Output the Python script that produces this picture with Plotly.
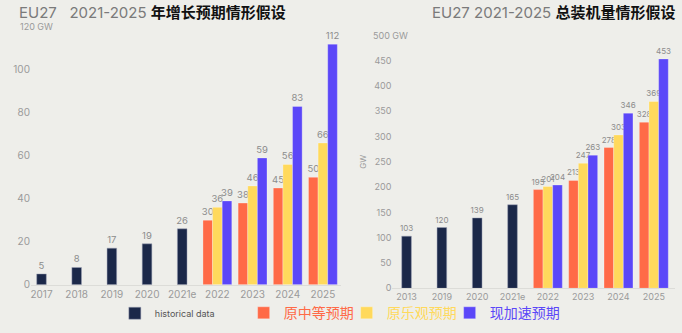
import plotly.graph_objects as go

# ---------------- data ----------------
left_categories = ["2017", "2018", "2019", "2020", "2021e", "2022", "2023", "2024", "2025"]
left_hist_years = ["2017", "2018", "2019", "2020", "2021e"]
left_hist_values = [5, 8, 17, 19, 26]
left_scen_years = ["2022", "2023", "2024", "2025"]
left_medium = [30, 38, 45, 50]
left_optimistic = [36, 46, 56, 66]
left_accelerated = [39, 59, 83, 112]

right_categories = ["2013", "2019", "2020", "2021e", "2022", "2023", "2024", "2025"]
right_hist_years = ["2013", "2019", "2020", "2021e"]
right_hist_values = [103, 120, 139, 165]
right_scen_years = ["2022", "2023", "2024", "2025"]
right_medium = [195, 213, 278, 328]
right_optimistic = [201, 247, 303, 369]
right_accelerated = [204, 263, 346, 453]

left_ticks = [0, 20, 40, 60, 80, 100, 120]
right_ticks = [0, 50, 100, 150, 200, 250, 300, 350, 400, 450, 500]

hist_name = "historical data"
scen_names = ["原中等预期", "原乐观预期", "现加速预期"]

# ---------------- style ----------------
BG = "#EEEEEA"
NAVY = "#1B2849"
ORANGE = "#FF6A47"
YELLOW = "#FFD95C"
PURPLE = "#5B47F8"
LABEL = "#8C8C8C"
TICK = "#9A9A9A"
LATIN = "Inter, Lato, 'DejaVu Sans', sans-serif"
CJK = "'Noto Sans CJK SC', sans-serif"

W, H = 682, 333


def px_x(p):
    return p / W


def px_y(p):
    return 1 - p / H


fig = go.Figure()

scen_colors = [ORANGE, YELLOW, PURPLE]
scen_groups = ["a", "b", "c"]
scen_legend_widths = [58, 58, 76]


def add_chart(xref, yref, hist_x, hist_y, scen_x, scen_vals, show, label_size):
    for name, vals, col, grp, lw in zip(scen_names, scen_vals, scen_colors, scen_groups,
                                        scen_legend_widths):
        fig.add_trace(go.Bar(
            x=scen_x, y=vals,
            name=f'<span style="color:{col}">{name}</span>',
            marker_color=col,
            marker_line=dict(color="rgba(255,255,255,0.35)", width=0.8),
            offsetgroup=grp, xaxis=xref, yaxis=yref,
            texttemplate="%{y}", textposition="outside", constraintext="none",
            textfont=dict(color=LABEL, size=label_size, family=LATIN), cliponaxis=False,
            showlegend=show, legend="legend2", legendwidth=lw,
        ))
    fig.add_trace(go.Bar(
        x=hist_x, y=hist_y, name=hist_name, marker_color=NAVY,
        marker_line=dict(color="rgba(160,165,185,0.6)", width=0.8),
        offsetgroup="b", xaxis=xref, yaxis=yref,
        texttemplate="%{y}", textposition="outside", constraintext="none",
        textfont=dict(color=LABEL, size=label_size, family=LATIN), cliponaxis=False,
        showlegend=show, legend="legend",
    ))


add_chart("x", "y", left_hist_years, left_hist_values, left_scen_years,
          [left_medium, left_optimistic, left_accelerated], True, 9.5)
add_chart("x2", "y2", right_hist_years, right_hist_values, right_scen_years,
          [right_medium, right_optimistic, right_accelerated], False, 8)

axis_font = dict(color=TICK, size=10, family=LATIN)

fig.update_layout(
    width=W, height=H,
    paper_bgcolor=BG, plot_bgcolor=BG,
    margin=dict(l=0, r=0, t=0, b=0),
    barmode="group",
    bargap=0.18,
    xaxis=dict(domain=[px_x(30), px_x(340)], type="category",
               categoryorder="array", categoryarray=left_categories,
               range=[-0.3, 8.5], anchor="y",
               showgrid=False, showline=True, linecolor="#DCDCD8", linewidth=1,
               ticks="", tickfont=axis_font, zeroline=False),
    yaxis=dict(domain=[px_y(289), px_y(27.4)], range=[0, 120],
               tickvals=left_ticks,
               ticktext=[str(t) if t != 120 else "" for t in left_ticks],
               showgrid=False, zeroline=False, showline=False,
               tickfont=axis_font, ticks="", anchor="x"),
    xaxis2=dict(domain=[px_x(392), px_x(675)], type="category",
                categoryorder="array", categoryarray=right_categories,
                range=[-0.4, 7.6], anchor="y2",
                showgrid=False, showline=True, linecolor="#DCDCD8", linewidth=1,
                ticks="", tickfont=dict(color=TICK, size=9, family=LATIN), zeroline=False),
    yaxis2=dict(domain=[px_y(292.7), px_y(35.7)], range=[0, 500],
                tickvals=right_ticks,
                ticktext=[str(t) if t != 500 else "" for t in right_ticks],
                showgrid=False, zeroline=False, showline=False,
                tickfont=dict(color=TICK, size=9, family=LATIN), ticks="", anchor="x2",
                title=dict(text="GW", font=dict(color=TICK, size=8, family=LATIN), standoff=6)),
    legend=dict(orientation="h", x=px_x(114), y=px_y(318), xanchor="left", yanchor="middle",
                font=dict(color="#555555", size=9, family=LATIN),
                bgcolor="rgba(0,0,0,0)", itemwidth=30, traceorder="normal"),
    legend2=dict(orientation="h", x=px_x(243), y=px_y(318), xanchor="left", yanchor="middle",
                 font=dict(size=14, family=CJK),
                 bgcolor="rgba(0,0,0,0)", itemwidth=30, traceorder="normal"),
    showlegend=True,
)

# axis unit labels at the top ticks
fig.add_annotation(text="120 GW", x=px_x(17), xref="paper", xanchor="left",
                   y=120, yref="y", yanchor="middle", showarrow=False,
                   font=dict(color=TICK, size=9, family=LATIN))
fig.add_annotation(text="500 GW", x=px_x(371), xref="paper", xanchor="left",
                   y=500, yref="y2", yanchor="middle", showarrow=False,
                   font=dict(color=TICK, size=9, family=LATIN))

# titles
fig.add_annotation(
    text=('<span style="color:#7A7A7A">EU27&nbsp;&nbsp;&nbsp;2021-2025</span> '
          '<b><span style="font-family:Noto Sans CJK SC;color:#111;font-size:15px">年增长预期情形假设</span></b>'),
    x=px_x(16), y=px_y(12), xref="paper", yref="paper", xanchor="left", yanchor="middle",
    showarrow=False, font=dict(size=15, family=LATIN))
fig.add_annotation(
    text=('<span style="color:#7A7A7A">EU27 2021-2025</span> '
          '<b><span style="font-family:Noto Sans CJK SC;color:#111;font-size:15px">总装机量情形假设</span></b>'),
    x=px_x(677), y=px_y(12), xref="paper", yref="paper", xanchor="right", yanchor="middle",
    showarrow=False, font=dict(size=15, family=LATIN))

fig.write_html("out.html")
